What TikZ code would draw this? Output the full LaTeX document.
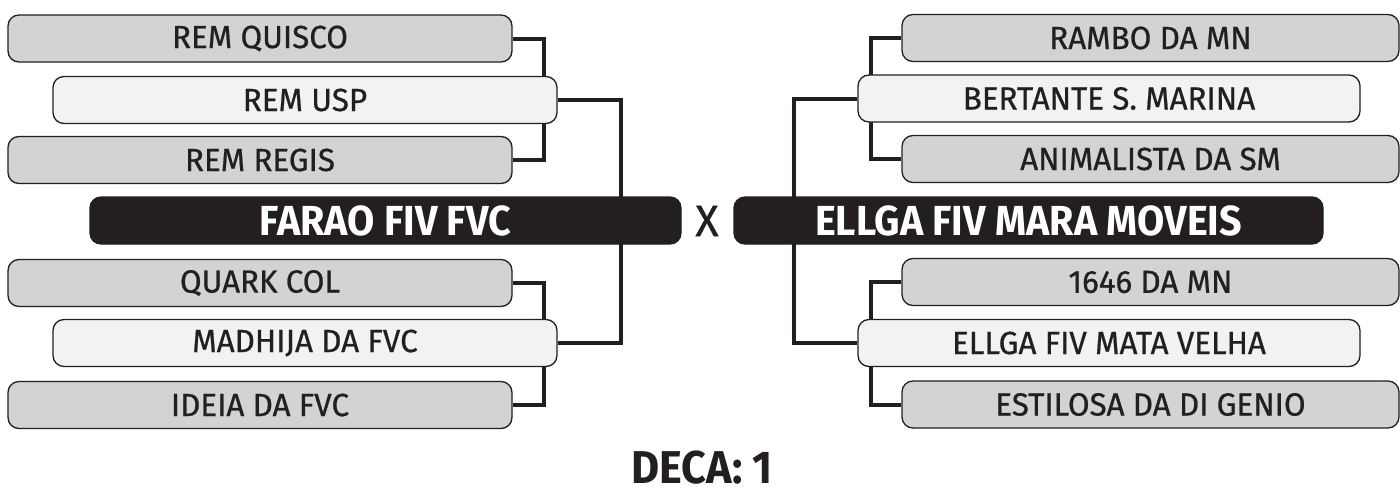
\documentclass[tikz,border=0pt]{standalone}
\usepackage{fontspec}
\setmainfont{Fira Sans}
\newfontfamily\graybf{Fira Sans}[FakeStretch=0.98,FakeBold=0.7]
\newfontfamily\blackbf{Fira Sans}[FakeStretch=0.94]
\usetikzlibrary{backgrounds}
\definecolor{ink}{HTML}{231F20}
\definecolor{grayfill}{HTML}{D1D3D4}
\definecolor{lightfill}{HTML}{F1F2F2}
\tikzset{
  base/.style={draw=ink, line width=1.3pt, rounded corners=11pt, minimum height=47pt, inner sep=0pt, text=ink},
  graybox/.style={base, fill=grayfill, minimum width=504pt, font=\graybf\fontsize{32}{34}\selectfont},
  lightbox/.style={base, fill=lightfill, minimum width=504pt, font=\graybf\fontsize{32}{34}\selectfont},
  blackbox/.style={base, fill=ink, text=white, font=\blackbf\bfseries\fontsize{42}{44}\selectfont},
  conn/.style={draw=ink, line width=4pt},
}
\begin{document}
\begin{tikzpicture}[x=1pt,y=-1pt]
\useasboundingbox (0,0) rectangle (1400,490);
% left side
\node[graybox] (q) at (260,38.5) {REM QUISCO};
\node[lightbox] (usp) at (305,100) {REM USP};
\node[graybox] (rg) at (260,160) {REM REGIS};
\node[blackbox, minimum width=591pt] (far) at (385.5,220.5) {FARAO FIV FVC};
\node[graybox] (qk) at (260,283) {QUARK COL};
\node[lightbox] (mad) at (305,343) {MADHIJA DA FVC};
\node[graybox] (id) at (260,405) {IDEIA DA FVC};
% right side
\node[graybox, minimum width=497pt] (ram) at (1150.5,38) {RAMBO DA MN};
\node[lightbox, minimum width=502pt] (ber) at (1109,98.5) {BERTANTE S. MARINA};
\node[graybox, minimum width=497pt] (ani) at (1150.5,159) {ANIMALISTA DA SM};
\node[blackbox, minimum width=589pt] (ell) at (1028.5,220.5) {ELLGA FIV MARA MOVEIS};
\node[graybox, minimum width=497pt] (mn) at (1150.5,282) {1646 DA MN};
\node[lightbox, minimum width=502pt] (mat) at (1109,343) {ELLGA FIV MATA VELHA};
\node[graybox, minimum width=497pt] (est) at (1150.5,404.5) {ESTILOSA DA DI GENIO};
% middle
\node[text=ink, font=\graybf\fontsize{44}{46}\selectfont, inner sep=0pt] (x) at (707,221) {X};
\node[text=ink, font=\blackbf\bfseries\fontsize{46}{48}\selectfont, inner sep=0pt, anchor=base] (deca) at (702,483) {DECA: 1};
\begin{scope}[on background layer]
\draw[conn] (q.east) -- ++(31,0) |- (rg.east);
\draw[conn] (qk.east) -- ++(31,0) |- (id.east);
\draw[conn] (usp.east) -- ++(63,0) |- (mad.east);
\draw[conn] (ram.west) -- ++(-30,0) |- (ani.west);
\draw[conn] (mn.west) -- ++(-30,0) |- (est.west);
\draw[conn] (ber.west) -- ++(-63,0) |- (mat.west);
\end{scope}
\end{tikzpicture}
\end{document}
